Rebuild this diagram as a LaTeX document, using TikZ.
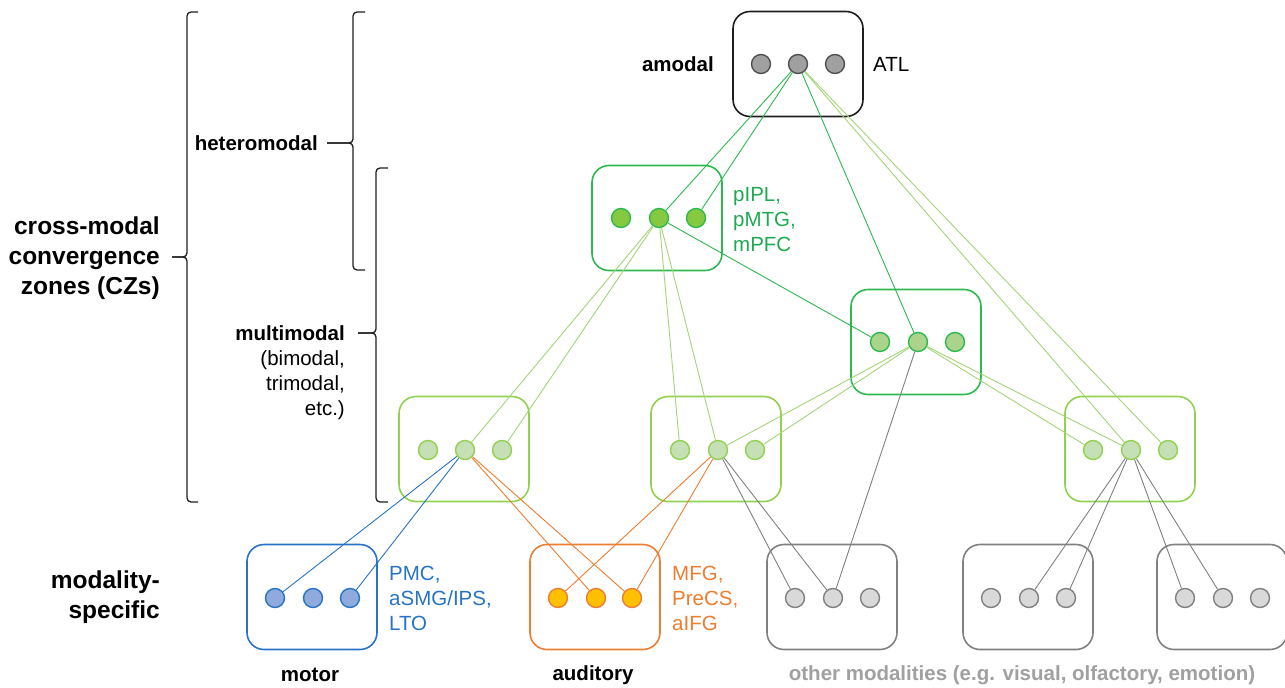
\documentclass[tikz,border=0pt]{standalone}
\usepackage{fontspec}
\setmainfont{Liberation Sans}
\definecolor{amline}{RGB}{30,30,30}
\definecolor{amfill}{RGB}{160,160,160}
\definecolor{amdot}{RGB}{80,80,80}
\definecolor{hetgreen}{RGB}{45,185,80}
\definecolor{hettext}{RGB}{30,170,80}
\definecolor{hetfill}{RGB}{135,200,65}
\definecolor{mulfill}{RGB}{170,212,140}
\definecolor{mmgreen}{RGB}{146,208,80}
\definecolor{mmfill}{RGB}{197,224,180}
\definecolor{linkgreen}{RGB}{165,212,120}
\definecolor{motblue}{RGB}{40,115,195}
\definecolor{motfill}{RGB}{143,170,220}
\definecolor{audorange}{RGB}{237,125,49}
\definecolor{audfill}{RGB}{255,192,0}
\definecolor{othgray}{RGB}{128,128,128}
\definecolor{othfill}{RGB}{217,217,217}
\definecolor{othtext}{RGB}{160,160,160}
\begin{document}
\begin{tikzpicture}[x=1pt, y=-1pt,
box/.style = {rectangle, rounded corners=17pt, line width=1.6pt, minimum width=130pt, minimum height=105pt},
dot/.style = {circle, line width=1.4pt, minimum size=19pt, inner sep=0pt},
link/.style = {line width=0.9pt},
brk/.style = {line width=1.3pt, rounded corners=4pt, color=amline},
lab/.style = {inner sep=0pt, font=\fontsize{20.5}{25}\selectfont, align=left},
blab/.style = {inner sep=0pt, font=\bfseries\fontsize{20.5}{25}\selectfont},
zone/.style = {inner sep=0pt, font=\bfseries\fontsize{24.5}{30}\selectfont, align=right}]
\useasboundingbox (0,0) rectangle (1285,688);
% boxes
\node[box, draw=amline] at (798,64) (amod) {};
\node[box, draw=hetgreen] at (657,218) (het) {};
\node[box, draw=hetgreen] at (916,342) (mul) {};
\node[box, draw=mmgreen] at (464,449) (mma) {};
\node[box, draw=mmgreen] at (716,449) (mmb) {};
\node[box, draw=mmgreen] at (1130,449) (mmc) {};
\node[box, draw=motblue] at (312,597) (mot) {};
\node[box, draw=audorange] at (595,597) (aud) {};
\node[box, draw=othgray] at (832,597) (otha) {};
\node[box, draw=othgray] at (1028,597) (othb) {};
\node[box, draw=othgray] at (1222,597) (othc) {};
% dots
\node[dot, draw=amdot, fill=amfill] at (761,64) (amod1) {};
\node[dot, draw=amdot, fill=amfill] at (798,64) (amod2) {};
\node[dot, draw=amdot, fill=amfill] at (835,64) (amod3) {};
\node[dot, draw=hetgreen, fill=hetfill] at (621,218) (het1) {};
\node[dot, draw=hetgreen, fill=hetfill] at (659,218) (het2) {};
\node[dot, draw=hetgreen, fill=hetfill] at (696,218) (het3) {};
\node[dot, draw=hetgreen, fill=mulfill] at (880,342) (mul1) {};
\node[dot, draw=hetgreen, fill=mulfill] at (918,342) (mul2) {};
\node[dot, draw=hetgreen, fill=mulfill] at (955,342) (mul3) {};
\node[dot, draw=mmgreen, fill=mmfill] at (428,450) (mma1) {};
\node[dot, draw=mmgreen, fill=mmfill] at (465,450) (mma2) {};
\node[dot, draw=mmgreen, fill=mmfill] at (502,450) (mma3) {};
\node[dot, draw=mmgreen, fill=mmfill] at (680,450) (mmb1) {};
\node[dot, draw=mmgreen, fill=mmfill] at (718,450) (mmb2) {};
\node[dot, draw=mmgreen, fill=mmfill] at (755,450) (mmb3) {};
\node[dot, draw=mmgreen, fill=mmfill] at (1093,450) (mmc1) {};
\node[dot, draw=mmgreen, fill=mmfill] at (1131,450) (mmc2) {};
\node[dot, draw=mmgreen, fill=mmfill] at (1168,450) (mmc3) {};
\node[dot, draw=motblue, fill=motfill] at (275,598) (mot1) {};
\node[dot, draw=motblue, fill=motfill] at (313,598) (mot2) {};
\node[dot, draw=motblue, fill=motfill] at (350,598) (mot3) {};
\node[dot, draw=audorange, fill=audfill] at (558,598) (aud1) {};
\node[dot, draw=audorange, fill=audfill] at (596,598) (aud2) {};
\node[dot, draw=audorange, fill=audfill] at (632,598) (aud3) {};
\node[dot, draw=othgray, fill=othfill] at (795,598) (otha1) {};
\node[dot, draw=othgray, fill=othfill] at (833,598) (otha2) {};
\node[dot, draw=othgray, fill=othfill] at (870,598) (otha3) {};
\node[dot, draw=othgray, fill=othfill] at (991,598) (othb1) {};
\node[dot, draw=othgray, fill=othfill] at (1029,598) (othb2) {};
\node[dot, draw=othgray, fill=othfill] at (1066,598) (othb3) {};
\node[dot, draw=othgray, fill=othfill] at (1185,598) (othc1) {};
\node[dot, draw=othgray, fill=othfill] at (1223,598) (othc2) {};
\node[dot, draw=othgray, fill=othfill] at (1260,598) (othc3) {};
% links
\draw[link, hetgreen] (amod2) -- (het2);
\draw[link, hetgreen] (amod2) -- (het3);
\draw[link, hetgreen] (amod2) -- (mul2);
\draw[link, linkgreen] (amod2) -- (mmc2);
\draw[link, linkgreen] (amod2) -- (mmc3);
\draw[link, hetgreen] (het2) -- (mul1);
\draw[link, linkgreen] (het2) -- (mma2);
\draw[link, linkgreen] (het2) -- (mma3);
\draw[link, linkgreen] (het2) -- (mmb1);
\draw[link, linkgreen] (het2) -- (mmb2);
\draw[link, linkgreen] (mul2) -- (mmb2);
\draw[link, linkgreen] (mul2) -- (mmb3);
\draw[link, linkgreen] (mul2) -- (mmc1);
\draw[link, linkgreen] (mul2) -- (mmc2);
\draw[link, othgray] (mul2) -- (otha2);
\draw[link, motblue] (mma2) -- (mot1);
\draw[link, motblue] (mma2) -- (mot3);
\draw[link, audorange] (mma2) -- (aud2);
\draw[link, audorange] (mma2) -- (aud3);
\draw[link, audorange] (mmb2) -- (aud1);
\draw[link, audorange] (mmb2) -- (aud3);
\draw[link, othgray] (mmb2) -- (otha1);
\draw[link, othgray] (mmb2) -- (otha2);
\draw[link, othgray] (mmc2) -- (othb2);
\draw[link, othgray] (mmc2) -- (othb3);
\draw[link, othgray] (mmc2) -- (othc1);
\draw[link, othgray] (mmc2) -- (othc2);
% brackets
\draw[brk] (198,12) -- (187,12) -- (187,257) -- (172,257);
\draw[brk] (172,257) -- (187,257) -- (187,502) -- (198,502);
\draw[brk] (365,12) -- (353,12) -- (353,143) -- (327,143);
\draw[brk] (327,143) -- (353,143) -- (353,270) -- (365,270);
\draw[brk] (388,168) -- (376,168) -- (376,333) -- (358,333);
\draw[brk] (358,333) -- (376,333) -- (376,502) -- (388,502);
% labels
\node[zone, anchor=east] at (160,258) (czlab) {cross-modal\\convergence\\zones (CZs)};
\node[zone, anchor=east] at (160,597) (msplab) {modality-\\specific};
\node[blab, anchor=east] at (318,143) (hetlab) {heteromodal};
\node[lab, align=right, anchor=east] at (345,373) (mmlab) {\textbf{multimodal}\\(bimodal,\\trimodal,\\etc.)};
\node[blab, anchor=east] at (714,64) (amlab) {amodal};
\node[lab, anchor=west] at (873,64) (atllab) {ATL};
\node[lab, anchor=west, text=hettext] at (733,220) (hetreg) {pIPL,\\pMTG,\\mPFC};
\node[lab, anchor=west, text=motblue] at (389,598) (motreg) {PMC,\\aSMG/IPS,\\LTO};
\node[lab, anchor=west, text=audorange] at (672,598) (audreg) {MFG,\\PreCS,\\aIFG};
\node[blab] at (310,675) (motlab) {motor};
\node[blab] at (593,675) (audlab) {auditory};
\node[blab, text=othtext] at (1022,675) (othlab) {other modalities (e.g. visual, olfactory, emotion)};
\end{tikzpicture}
\end{document}
